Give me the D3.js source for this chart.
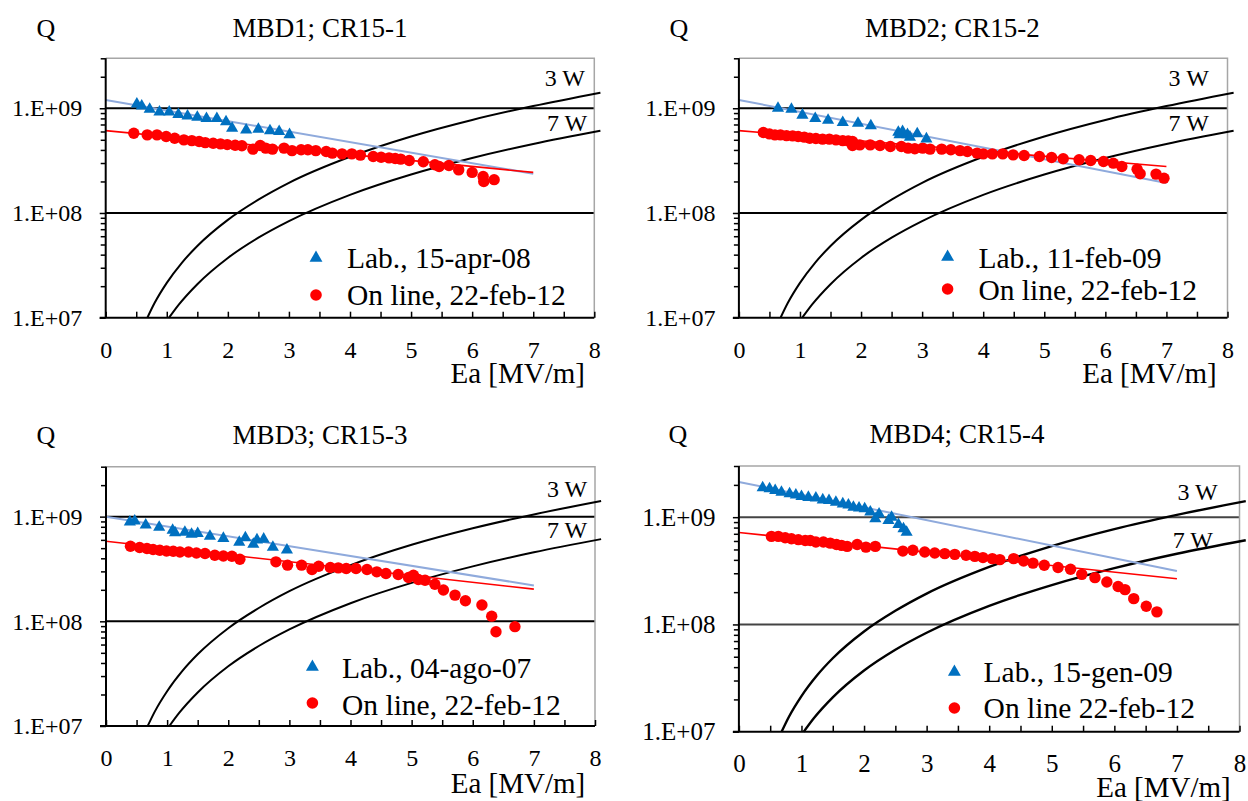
<!DOCTYPE html>
<html>
<head>
<meta charset="utf-8">
<script src="https://cdn.jsdelivr.net/npm/d3@7"></script>
<style>
  body { margin: 0; background: #fff; }
</style>
</head>
<body>
<div id="chart"></div>
<script>
// Titles and legend labels
var titles = ["MBD1; CR15-1", "MBD2; CR15-2", "MBD3; CR15-3", "MBD4; CR15-4"];
var labLabels = ["Lab., 15-apr-08", "Lab., 11-feb-09", "Lab., 04-ago-07", "Lab., 15-gen-09"];
var onlineLabels = ["On line, 22-feb-12", "On line, 22-feb-12", "On line, 22-feb-12", "On line 22-feb-12"];

// Ticks
var xTicks = [0, 1, 2, 3, 4, 5, 6, 7, 8];
var xHalfTicks = [0.5, 1.5, 2.5, 3.5, 4.5, 5.5, 6.5, 7.5];
var yTicks = [1e7, 1e8, 1e9];
var yTickLabels = ["1.E+07", "1.E+08", "1.E+09"];
var yMinorTicks = [2e7, 3e7, 4e7, 5e7, 6e7, 7e7, 8e7, 9e7,
                   2e8, 3e8, 4e8, 5e8, 6e8, 7e8, 8e8, 9e8, 2e9, 3e9];

// MBD1 data
var lab1Ea = [0.51, 0.59, 0.72, 0.88, 1.04, 1.19, 1.34, 1.50, 1.65, 1.82, 1.97, 2.07, 2.30, 2.50, 2.69, 2.84, 3.01];
var lab1Q = [1.10e9, 1.05e9, 9.8e8, 9.2e8, 9.2e8, 8.7e8, 8.45e8, 8.2e8, 8.0e8, 8.0e8, 7.45e8, 6.45e8, 6.2e8, 6.3e8, 6.1e8, 6.0e8, 5.6e8];
var online1Ea = [0.46, 0.68, 0.84, 0.99, 1.13, 1.28, 1.41, 1.53, 1.63, 1.76, 1.88, 1.99, 2.12, 2.23, 2.41, 2.53, 2.62, 2.73, 2.92, 3.05, 3.20, 3.31, 3.44, 3.61, 3.71, 3.87, 4.03, 4.17, 4.38, 4.51, 4.64, 4.74, 4.83, 4.97, 5.20, 5.39, 5.46, 5.62, 5.78, 6.00, 6.19, 6.18, 6.36];
var online1Q = [5.78e8, 5.57e8, 5.57e8, 5.37e8, 5.18e8, 4.99e8, 4.91e8, 4.81e8, 4.70e8, 4.64e8, 4.57e8, 4.50e8, 4.44e8, 4.38e8, 4.07e8, 4.41e8, 4.16e8, 4.07e8, 4.16e8, 3.94e8, 4.01e8, 4.01e8, 3.94e8, 3.86e8, 3.73e8, 3.67e8, 3.67e8, 3.57e8, 3.46e8, 3.41e8, 3.36e8, 3.31e8, 3.27e8, 3.17e8, 3.08e8, 2.89e8, 2.78e8, 2.84e8, 2.58e8, 2.44e8, 2.00e8, 2.23e8, 2.08e8];

// MBD2 data
var lab2Ea = [0.64, 0.86, 1.04, 1.25, 1.46, 1.70, 1.95, 2.16, 2.61, 2.63, 2.68, 2.76, 2.80, 2.92, 3.07];
var lab2Q = [1.0e9, 9.8e8, 8.6e8, 8.0e8, 7.7e8, 7.3e8, 7.2e8, 6.8e8, 5.9e8, 5.6e8, 6.0e8, 5.6e8, 5.3e8, 5.7e8, 5.1e8];
var online2Ea = [0.40, 0.50, 0.59, 0.68, 0.78, 0.88, 0.97, 1.07, 1.16, 1.26, 1.37, 1.48, 1.59, 1.70, 1.79, 1.86, 1.86, 1.98, 2.15, 2.31, 2.48, 2.66, 2.77, 2.88, 3.01, 3.13, 3.32, 3.47, 3.62, 3.74, 3.90, 4.00, 4.15, 4.32, 4.49, 4.67, 4.92, 5.12, 5.31, 5.57, 5.76, 5.97, 6.13, 6.27, 6.52, 6.57, 6.83, 6.96];
var online2Q = [5.86e8, 5.69e8, 5.57e8, 5.57e8, 5.48e8, 5.45e8, 5.37e8, 5.30e8, 5.18e8, 5.14e8, 5.07e8, 5.07e8, 4.99e8, 4.91e8, 4.88e8, 4.81e8, 4.41e8, 4.47e8, 4.47e8, 4.41e8, 4.31e8, 4.31e8, 4.16e8, 4.10e8, 4.16e8, 4.07e8, 4.07e8, 4.01e8, 3.94e8, 3.86e8, 3.73e8, 3.67e8, 3.67e8, 3.67e8, 3.59e8, 3.54e8, 3.46e8, 3.39e8, 3.29e8, 3.22e8, 3.17e8, 3.10e8, 2.99e8, 2.78e8, 2.62e8, 2.37e8, 2.35e8, 2.15e8];

// MBD3 data
var lab3Ea = [0.39, 0.47, 0.65, 0.87, 1.09, 1.13, 1.29, 1.40, 1.50, 1.70, 1.92, 2.18, 2.28, 2.41, 2.47, 2.58, 2.73, 2.96];
var lab3Q = [8.9e8, 9.1e8, 8.3e8, 7.9e8, 7.4e8, 7.0e8, 7.1e8, 6.8e8, 6.9e8, 6.5e8, 6.2e8, 5.7e8, 6.3e8, 5.45e8, 6.0e8, 6.1e8, 5.1e8, 4.8e8];
var online3Ea = [0.40, 0.55, 0.67, 0.77, 0.88, 0.99, 1.10, 1.21, 1.35, 1.48, 1.62, 1.78, 1.92, 2.06, 2.19, 2.78, 2.97, 3.20, 3.37, 3.48, 3.67, 3.80, 3.93, 4.09, 4.27, 4.43, 4.58, 4.78, 4.95, 5.03, 5.11, 5.22, 5.38, 5.52, 5.71, 5.88, 6.15, 6.31, 6.38, 6.69];
var online3Q = [5.21e8, 5.07e8, 4.96e8, 4.85e8, 4.78e8, 4.70e8, 4.67e8, 4.60e8, 4.60e8, 4.50e8, 4.44e8, 4.28e8, 4.21e8, 4.19e8, 3.92e8, 3.70e8, 3.44e8, 3.44e8, 3.13e8, 3.36e8, 3.27e8, 3.24e8, 3.20e8, 3.20e8, 3.13e8, 2.97e8, 2.86e8, 2.80e8, 2.62e8, 2.76e8, 2.51e8, 2.47e8, 2.26e8, 1.99e8, 1.78e8, 1.57e8, 1.43e8, 1.12e8, 7.96e7, 8.89e7];

// MBD4 data
var lab4Ea = [0.38, 0.49, 0.58, 0.68, 0.81, 0.91, 1.00, 1.11, 1.23, 1.34, 1.44, 1.55, 1.66, 1.75, 1.83, 1.92, 2.01, 2.10, 2.18, 2.24, 2.39, 2.44, 2.55, 2.63, 2.68];
var lab4Q = [1.88e9, 1.84e9, 1.77e9, 1.71e9, 1.65e9, 1.61e9, 1.56e9, 1.53e9, 1.51e9, 1.45e9, 1.43e9, 1.38e9, 1.33e9, 1.30e9, 1.24e9, 1.22e9, 1.20e9, 1.12e9, 9.66e8, 1.07e9, 9.3e8, 1.0e9, 8.55e8, 7.8e8, 7.25e8];
var online4Ea = [0.52, 0.63, 0.74, 0.84, 0.95, 1.06, 1.14, 1.23, 1.35, 1.46, 1.56, 1.64, 1.73, 1.89, 2.03, 2.18, 2.62, 2.78, 2.97, 3.13, 3.29, 3.45, 3.63, 3.77, 3.90, 4.05, 4.17, 4.39, 4.55, 4.70, 4.88, 5.10, 5.30, 5.48, 5.69, 5.88, 6.06, 6.17, 6.31, 6.51, 6.68];
var online4Q = [6.62e8, 6.62e8, 6.44e8, 6.30e8, 6.17e8, 6.07e8, 6.07e8, 5.86e8, 5.86e8, 5.73e8, 5.57e8, 5.46e8, 5.34e8, 5.57e8, 5.26e8, 5.34e8, 4.83e8, 4.91e8, 4.73e8, 4.63e8, 4.57e8, 4.50e8, 4.41e8, 4.31e8, 4.20e8, 4.11e8, 4.02e8, 4.11e8, 3.90e8, 3.73e8, 3.56e8, 3.39e8, 3.27e8, 2.93e8, 2.73e8, 2.49e8, 2.26e8, 2.11e8, 1.74e8, 1.48e8, 1.31e8];

// Trend lines [Ea, Q] end points
var labFit = [[[0, 1.2e9], [7, 2.37e8]], [[0, 1.2e9], [7, 1.93e8]], [[0, 1.0e9], [7, 2.2e8]], [[0, 2.13e9], [7, 3.15e8]]];
var onlineFit = [[[0, 6.12e8], [7, 2.44e8]], [[0, 6.12e8], [7, 2.78e8]], [[0, 5.82e8], [7, 2.03e8]], [[0, 7.2e8], [7, 2.67e8]]];

// Constant dissipated power curves (3 W and 7 W)
var curve3Ea = [0.682, 0.8, 1, 1.25, 1.5, 2, 2.5, 3, 4, 5, 6, 7, 8.1];
var curve3Q = [1.0e7, 1.38e7, 2.15e7, 3.36e7, 4.84e7, 8.6e7, 1.34e8, 1.94e8, 3.44e8, 5.38e8, 7.74e8, 1.05e9, 1.41e9];
var curve7Ea = [1.037, 1.2, 1.5, 2, 2.5, 3, 4, 5, 6, 7, 8.1];
var curve7Q = [1.0e7, 1.34e7, 2.09e7, 3.72e7, 5.81e7, 8.37e7, 1.49e8, 2.33e8, 3.35e8, 4.56e8, 6.10e8];

var labEa = [lab1Ea, lab2Ea, lab3Ea, lab4Ea];
var labQ = [lab1Q, lab2Q, lab3Q, lab4Q];
var onlineEa = [online1Ea, online2Ea, online3Ea, online4Ea];
var onlineQ = [online1Q, online2Q, online3Q, online4Q];

// Panel layout
var layouts = [
  {left: 105.7, right: 594.3, top: 58.3, bottom: 317.7, titleX: 320, titleY: 36.7, qX: 46,
   legX: 316, labY: 258, onY: 295, legTextX: 347, labTextY: 268.3, onTextY: 305,
   eaX: 585, eaY: 383, w3X: 544.7, w3Y: 86, w7X: 547, w7Y: 131, tickFont: 24, grid: "#000"},
  {left: 738.9, right: 1227.5, top: 58.3, bottom: 317.7, titleX: 952.4, titleY: 36.7, qX: 679,
   legX: 947.6, labY: 257, onY: 289, legTextX: 978.4, labTextY: 268.3, onTextY: 300,
   eaX: 1216.7, eaY: 383, w3X: 1168.6, w3Y: 86, w7X: 1168.6, w7Y: 131, tickFont: 24, grid: "#000"},
  {left: 106, right: 595, top: 466.7, bottom: 726, titleX: 320, titleY: 444, qX: 46,
   legX: 312.4, labY: 667, onY: 703, legTextX: 342, labTextY: 678, onTextY: 715,
   eaX: 585.2, eaY: 793, w3X: 546.9, w3Y: 496.7, w7X: 546.9, w7Y: 538, tickFont: 24, grid: "#000"},
  {left: 738.9, right: 1239.5, top: 466, bottom: 731.7, titleX: 957, titleY: 443, qX: 678,
   legX: 954.4, labY: 672, onY: 708, legTextX: 983.6, labTextY: 681.7, onTextY: 718,
   eaX: 1230.7, eaY: 797, w3X: 1177.5, w3Y: 500, w7X: 1172.7, w7Y: 548, tickFont: 25, grid: "#444"}
];

var serif = "'Liberation Serif', 'Times New Roman', serif";
var labColor = "#0070c0";
var onlineColor = "#ff0000";
var labFitColor = "#8faadc";

var svg = d3.select("#chart")
  .append("svg")
  .attr("width", 1248)
  .attr("height", 801);

var triangle = d3.symbol().type(d3.symbolTriangle).size(64);

layouts.forEach(function(L, i) {
  var g = svg.append("g");

  var x = d3.scaleLinear().domain([0, 8]).range([L.left, L.right]);
  var y = d3.scaleLog().domain([1e7, 3e9]).range([L.bottom, L.top]);

  // horizontal decade lines
  g.selectAll(".grid")
    .data([1e8, 1e9])
    .enter()
    .append("line")
    .attr("x1", L.left).attr("x2", L.right)
    .attr("y1", d => y(d)).attr("y2", d => y(d))
    .attr("stroke", L.grid)
    .attr("stroke-width", 2);

  // top and right border
  g.append("path")
    .attr("d", `M${L.left},${L.top}H${L.right}V${L.bottom}`)
    .attr("fill", "none")
    .attr("stroke", "#a6a6a6")
    .attr("stroke-width", 1.5);

  var line = d3.line()
    .x(d => x(d[0]))
    .y(d => y(d[1]));

  var curveLine = d3.line()
    .x(d => x(d[0]))
    .y(d => y(d[1]))
    .curve(d3.curveMonotoneX);

  // power curves
  [[curve3Ea, curve3Q], [curve7Ea, curve7Q]].forEach(function(c) {
    g.append("path")
      .attr("d", curveLine(d3.zip(c[0], c[1])))
      .attr("fill", "none")
      .attr("stroke", "#000")
      .attr("stroke-width", i === 3 ? 2.4 : 2);
  });

  // trend lines
  g.append("path")
    .attr("d", line(labFit[i]))
    .attr("fill", "none")
    .attr("stroke", labFitColor)
    .attr("stroke-width", 2);

  g.append("path")
    .attr("d", line(onlineFit[i]))
    .attr("fill", "none")
    .attr("stroke", onlineColor)
    .attr("stroke-width", 1.6);

  // on line points
  g.selectAll(".online")
    .data(d3.zip(onlineEa[i], onlineQ[i]))
    .enter()
    .append("circle")
    .attr("cx", d => x(d[0]))
    .attr("cy", d => y(d[1]))
    .attr("r", 5.7)
    .attr("fill", onlineColor);

  // lab points
  g.selectAll(".lab")
    .data(d3.zip(labEa[i], labQ[i]))
    .enter()
    .append("path")
    .attr("d", triangle)
    .attr("transform", d => `translate(${x(d[0])},${y(d[1])})`)
    .attr("fill", labColor);

  // y axis
  var leftAxis = d3.axisLeft(y)
    .tickValues(yTicks)
    .tickFormat((d, k) => yTickLabels[k])
    .tickSize(6)
    .tickPadding(17.5);

  var yAxisG = g.append("g")
    .attr("transform", `translate(${L.left},0)`)
    .call(leftAxis);
  yAxisG.select(".domain").remove();
  yAxisG.selectAll("line").attr("stroke-width", 1.5);
  yAxisG.selectAll("text")
    .style("font-size", L.tickFont + "px")
    .style("font-family", serif);

  var minorAxis = d3.axisLeft(y)
    .tickValues(yMinorTicks)
    .tickFormat("")
    .tickSize(5);
  var minorG = g.append("g")
    .attr("transform", `translate(${L.left},0)`)
    .call(minorAxis);
  minorG.select(".domain").remove();
  minorG.selectAll("line").attr("stroke-width", 1.5);

  // x axis (ticks point inward)
  var bottomAxis = d3.axisBottom(x)
    .tickValues(xTicks)
    .tickSize(-6)
    .tickPadding(23);
  var xAxisG = g.append("g")
    .attr("transform", `translate(0,${L.bottom})`)
    .call(bottomAxis);
  xAxisG.select(".domain").remove();
  xAxisG.selectAll("line").attr("stroke-width", 1.5);
  xAxisG.selectAll("text")
    .style("font-size", L.tickFont + "px")
    .style("font-family", serif);

  var halfAxis = d3.axisBottom(x)
    .tickValues(xHalfTicks)
    .tickFormat("")
    .tickSize(-6);
  var halfG = g.append("g")
    .attr("transform", `translate(0,${L.bottom})`)
    .call(halfAxis);
  halfG.select(".domain").remove();
  halfG.selectAll("line").attr("stroke-width", 1.5);

  // axis lines
  g.append("line")
    .attr("x1", L.left).attr("x2", L.left)
    .attr("y1", L.top).attr("y2", L.bottom)
    .attr("stroke", "#000").attr("stroke-width", 2);
  g.append("line")
    .attr("x1", L.left - 6).attr("x2", L.right)
    .attr("y1", L.bottom).attr("y2", L.bottom)
    .attr("stroke", "#000").attr("stroke-width", 2);

  // titles and labels
  function label(tx, ty, size, anchor, str) {
    g.append("text")
      .attr("x", tx).attr("y", ty)
      .attr("text-anchor", anchor)
      .style("font-family", serif)
      .style("font-size", size + "px")
      .style("fill", "#000")
      .text(str);
  }

  label(L.titleX, L.titleY, 27, "middle", titles[i]);
  label(L.qX, L.titleY, 26, "middle", "Q");
  label(L.eaX, L.eaY, 29, "end", "Ea [MV/m]");
  label(L.w3X, L.w3Y, 24, "start", "3 W");
  label(L.w7X, L.w7Y, 24, "start", "7 W");

  // legend
  g.append("path")
    .attr("d", d3.symbol().type(d3.symbolTriangle).size(72))
    .attr("transform", `translate(${L.legX},${L.labY})`)
    .attr("fill", labColor);
  g.append("circle")
    .attr("cx", L.legX).attr("cy", L.onY)
    .attr("r", 5.8)
    .attr("fill", onlineColor);

  label(L.legTextX, L.labTextY, 29.5, "start", labLabels[i]);
  label(L.legTextX, L.onTextY, 29.5, "start", onlineLabels[i]);
});
</script>
</body>
</html>
